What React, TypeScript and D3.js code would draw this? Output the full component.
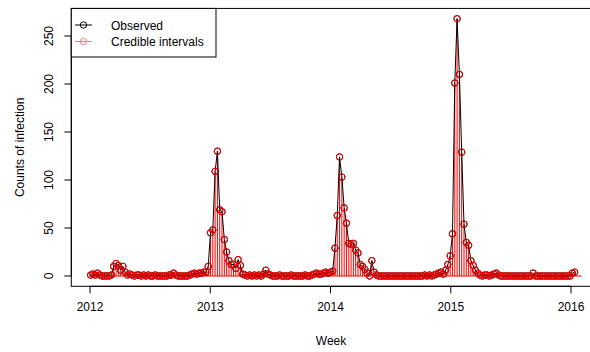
import React from "react";
import * as d3 from "d3";

// Weekly counts of infection, first week starting early January 2012
const counts: number[] = [
  1, 2, 1, 3, 1, 0, 0, 0, 0, 1,
  10, 13, 11, 6, 10, 4, 1, 2, 1, 0,
  1, 1, 0, 1, 0, 1, 0, 0, 1, 0,
  0, 0, 0, 0, 1, 1, 3, 1, 0, 0,
  0, 0, 0, 1, 2, 3, 2, 3, 3, 4,
  4, 10, 45, 48, 109, 130, 69, 67, 38, 25,
  16, 12, 12, 8, 17, 11, 2, 1, 0, 1,
  0, 1, 0, 1, 0, 2, 6, 2, 1, 0,
  0, 0, 1, 0, 0, 0, 0, 1, 0, 0,
  0, 0, 0, 1, 0, 0, 1, 2, 3, 2,
  2, 3, 4, 3, 4, 5, 29, 63, 124, 103,
  71, 55, 34, 33, 34, 27, 24, 12, 10, 7,
  3, 0, 16, 4, 1, 0, 0, 0, 0, 0,
  0, 0, 0, 0, 0, 0, 0, 0, 0, 0,
  0, 0, 0, 0, 0, 1, 0, 1, 0, 1,
  2, 3, 4, 2, 6, 12, 21, 44, 201, 268,
  210, 129, 54, 35, 32, 16, 11, 6, 3, 1,
  0, 1, 1, 0, 1, 2, 3, 1, 0, 0,
  0, 0, 0, 0, 0, 0, 0, 0, 0, 0,
  0, 0, 3, 0, 0, 0, 0, 0, 0, 0,
  0, 0, 0, 0, 0, 0, 0, 0, 0, 3,
  4,
];
const extraIntervalWeeks = 3;
const startYear = 2012;
const startDayOffset = 2;
const xTickYears = [2012, 2013, 2014, 2015, 2016];
const yTicks = [0, 50, 100, 150, 200, 250];
const legendLabels = ["Observed", "Credible intervals"];
const xTitle = "Week";
const yTitle = "Counts of infection";

const W = 590;
const H = 352;
const FONT = "'Liberation Sans', Arial, Helvetica, sans-serif";

export default function App() {
  const times = counts.map((_, i) => startYear + (startDayOffset + 7 * i) / 365.25);
  const t0 = times[0];
  const tN = times[times.length - 1];
  const tPad = 0.04 * (tN - t0);
  const maxV = d3.max(counts) as number;
  const vPad = 0.04 * maxV;

  const x = d3.scaleLinear().domain([2012, 2016]).range([90, 571]);
  const y = d3.scaleLinear().domain([0, 250]).range([276, 36]);

  const left = x(t0 - tPad);
  const right = x(tN + tPad);
  const top = y(maxV + vPad);
  const bottom = y(-vPad);

  const line = d3
    .line<number>()
    .x((_, i) => x(times[i]))
    .y((d) => y(d));

  const tEnd = tN + (extraIntervalWeeks * 7) / 365.25;
  const red = "#ff0000";
  const pink = "#f07c84";

  return (
    <svg
      width={W}
      height={H}
      style={{ position: "absolute", left: 0, top: 0, background: "#fff" }}
      fontFamily={FONT}
    >
      <rect x={0} y={0} width={W} height={H} fill="#fff" />
      {/* credible intervals: vertical segments */}
      <g stroke={red} strokeWidth={1}>
        {counts.map((v, i) => (
          <line key={i} x1={x(times[i])} x2={x(times[i])} y1={y(0)} y2={y(v)} />
        ))}
        <line x1={x(t0)} x2={x(tEnd)} y1={y(0)} y2={y(0)} />
      </g>
      {/* observed line */}
      <path d={line(counts) || ""} fill="none" stroke="#000" strokeWidth={1} />
      <g fill="none" stroke="#000" strokeWidth={1}>
        {counts.map((v, i) => (
          <circle key={i} cx={x(times[i])} cy={y(v)} r={3.2} />
        ))}
      </g>
      <g fill="none" stroke={red} strokeWidth={1}>
        {counts.map((v, i) => (
          <circle key={i} cx={x(times[i])} cy={y(v)} r={3.2} />
        ))}
      </g>

      {/* plot box */}
      <rect x={left} y={top} width={right - left} height={bottom - top} fill="none" stroke="#000" strokeWidth={1} />

      {/* x axis */}
      <g stroke="#000" strokeWidth={1}>
        <line x1={x(xTickYears[0])} x2={x(xTickYears[xTickYears.length - 1])} y1={bottom} y2={bottom} />
        {xTickYears.map((t) => (
          <line key={t} x1={x(t)} x2={x(t)} y1={bottom} y2={bottom + 7} />
        ))}
      </g>
      {xTickYears.map((t) => (
        <text key={t} x={x(t)} y={bottom + 24.5} textAnchor="middle" fontSize={12} fill="#000">
          {t}
        </text>
      ))}
      <text x={(left + right) / 2 > 330 ? 331 : (left + right) / 2} y={345} textAnchor="middle" fontSize={12} fill="#000">
        {xTitle}
      </text>

      {/* y axis */}
      <g stroke="#000" strokeWidth={1}>
        <line x1={left} x2={left} y1={y(yTicks[0])} y2={y(yTicks[yTicks.length - 1])} />
        {yTicks.map((v) => (
          <line key={v} x1={left - 7} x2={left} y1={y(v)} y2={y(v)} />
        ))}
      </g>
      {yTicks.map((v) => (
        <text
          key={v}
          transform={`translate(${left - 18},${y(v)}) rotate(-90)`}
          textAnchor="middle"
          fontSize={12}
          fill="#000"
        >
          {v}
        </text>
      ))}
      <text
        transform={`translate(24,${(top + bottom) / 2}) rotate(-90)`}
        textAnchor="middle"
        fontSize={12}
        fill="#000"
      >
        {yTitle}
      </text>

      {/* legend */}
      <rect x={left} y={top} width={216 - left} height={57 - top} fill="#fff" stroke="#000" strokeWidth={1} />
      <line x1={75} x2={92} y1={25} y2={25} stroke="#000" />
      <circle cx={83.5} cy={25} r={3.2} fill="none" stroke="#000" />
      <text x={111} y={29.5} fontSize={12} fill="#000">{legendLabels[0]}</text>
      <line x1={75} x2={92} y1={41.5} y2={41.5} stroke={pink} />
      <circle cx={83.5} cy={41.5} r={3.2} fill="none" stroke={pink} />
      <text x={111} y={46} fontSize={12} fill="#000">{legendLabels[1]}</text>
    </svg>
  );
}
